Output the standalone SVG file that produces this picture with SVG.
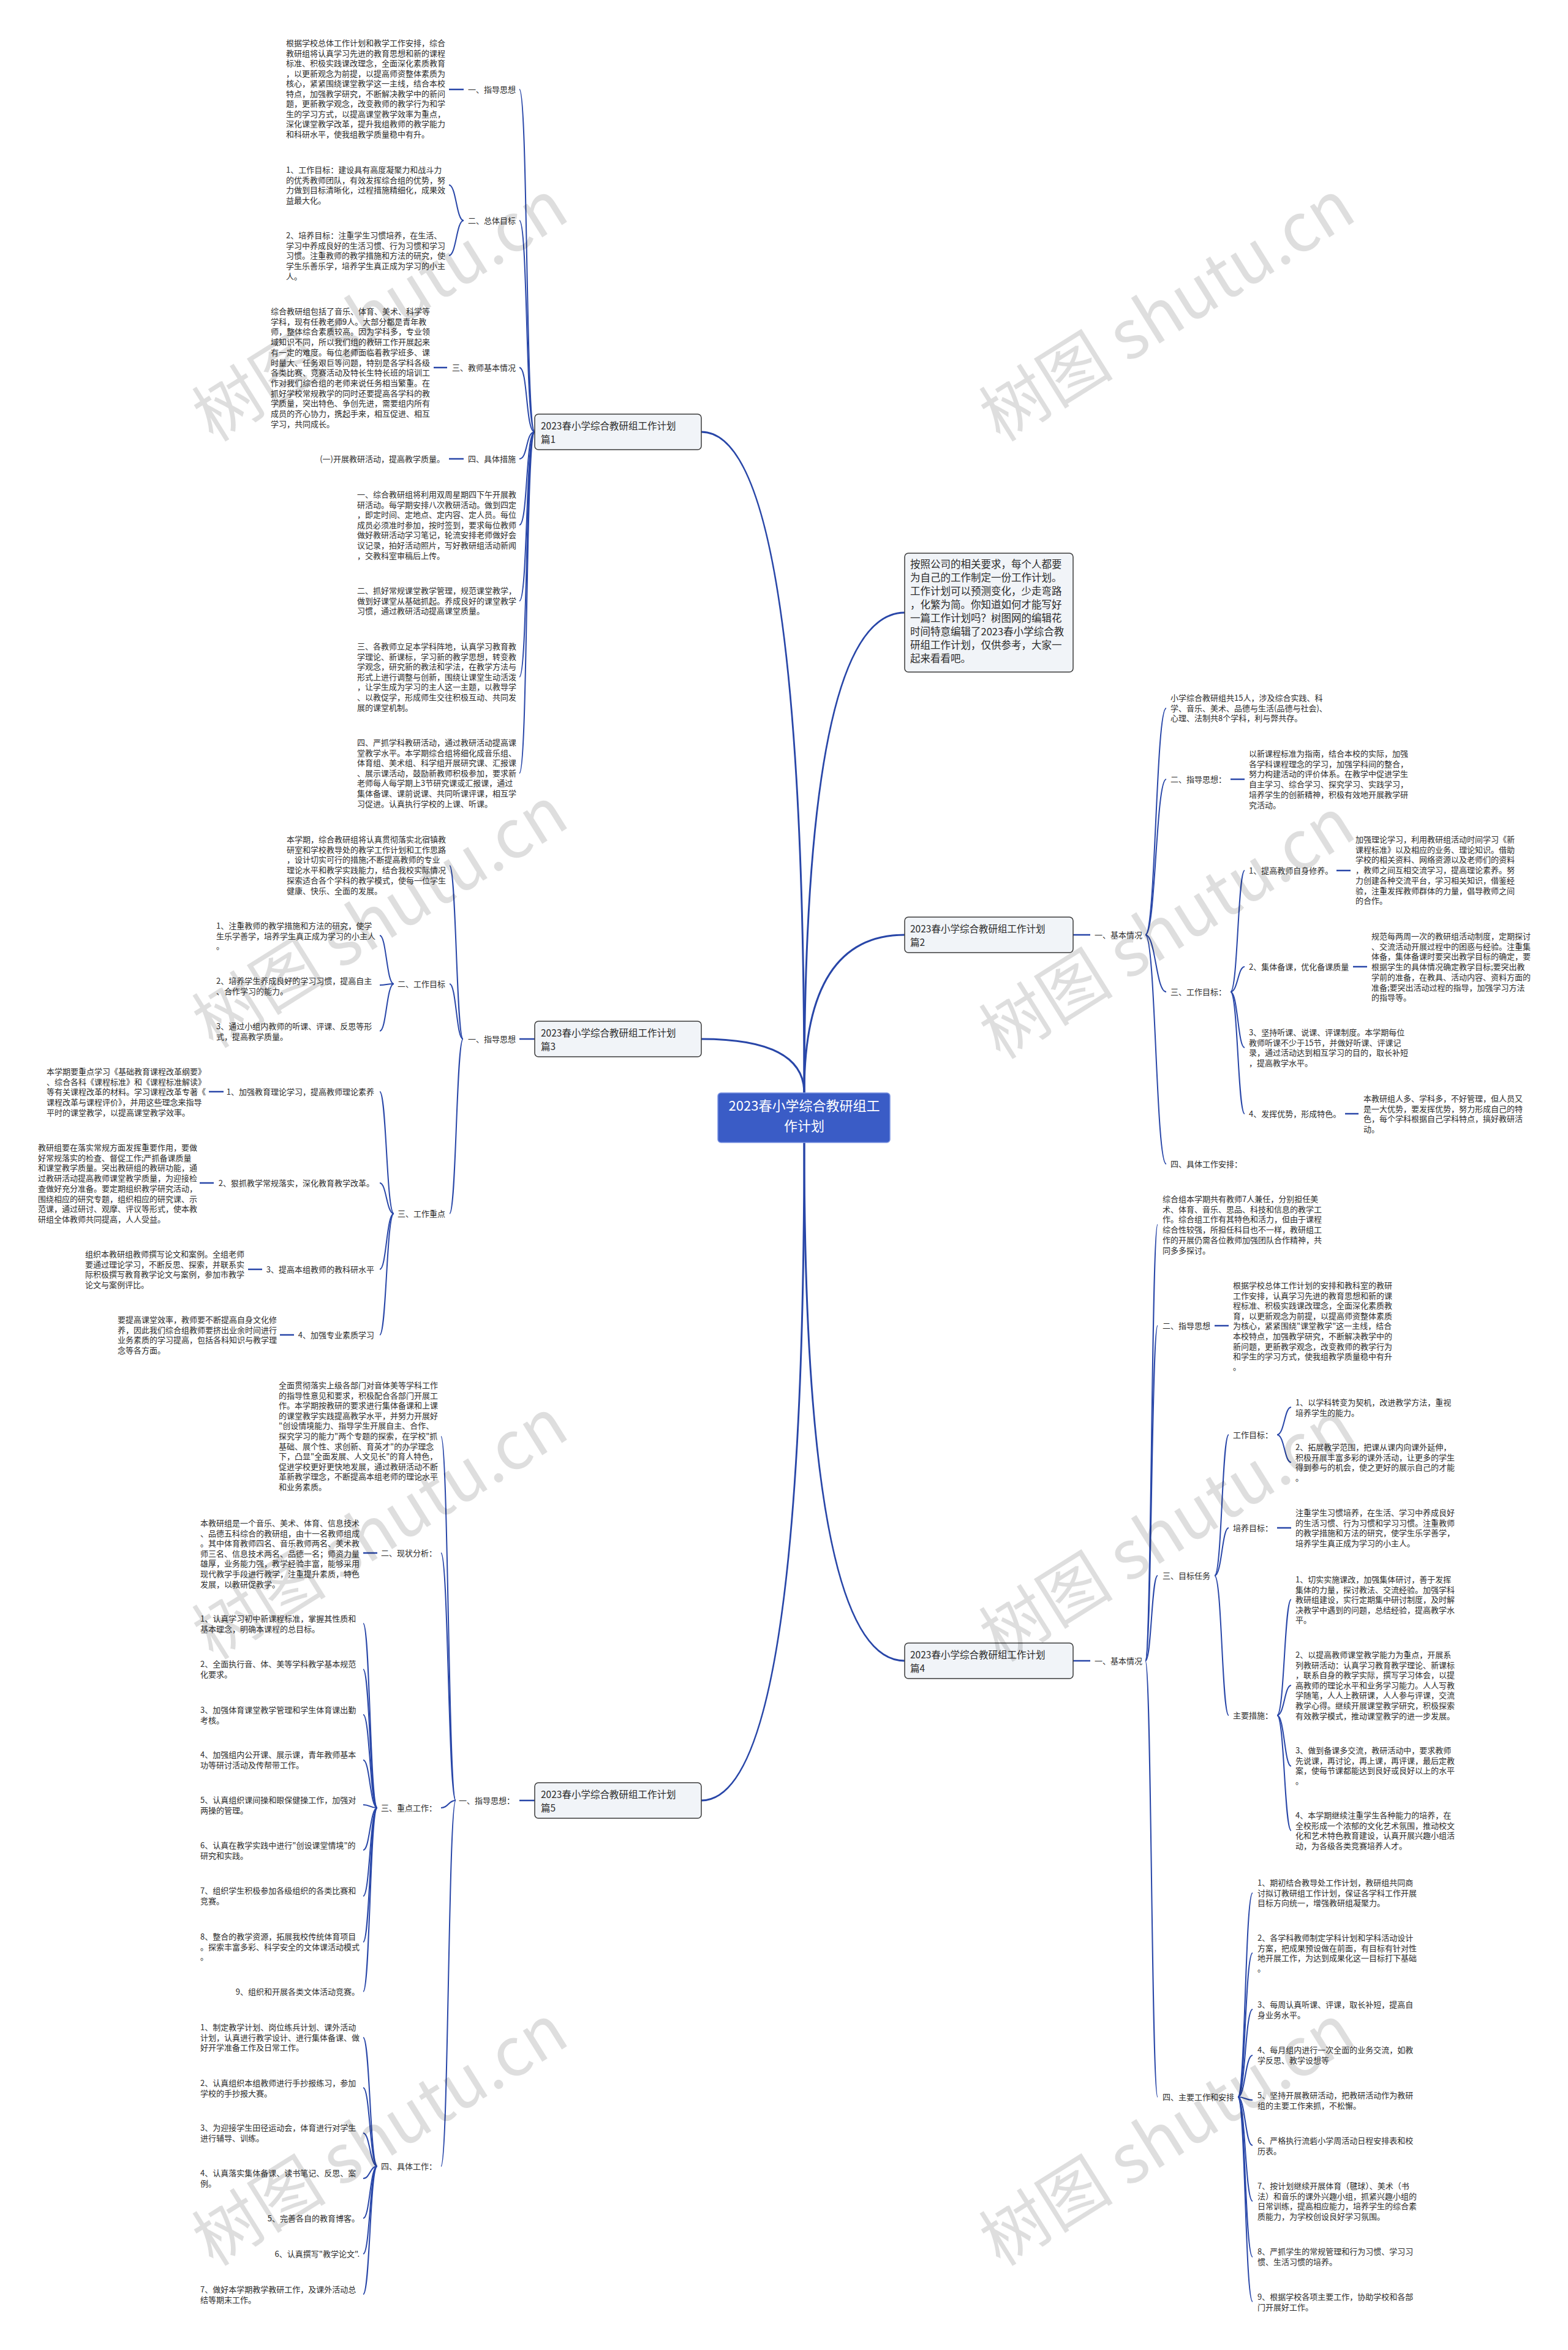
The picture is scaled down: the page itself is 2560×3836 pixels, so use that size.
<svg xmlns="http://www.w3.org/2000/svg" width="2560" height="3836" viewBox="0 0 2560 3836">
<style>
.t{font-family:"Noto Sans CJK SC","Noto Sans",sans-serif;font-size:13px;fill:#2b2b2b}
.e{text-anchor:end}
.nt{font-family:"Noto Sans CJK SC","Noto Sans",sans-serif;font-size:15.5px;fill:#2b2b2b}
.it{font-family:"Noto Sans CJK SC","Noto Sans",sans-serif;font-size:16.5px;fill:#2b2b2b}
.ct{font-family:"Noto Sans CJK SC","Noto Sans",sans-serif;font-size:22px;fill:#ffffff;text-anchor:middle}
.box{fill:#f1f4f8;stroke:#3a3a3a;stroke-width:1.5}
.ln{stroke:#2846a8;stroke-width:2;fill:none}
.lk{stroke:#2846a8;stroke-width:2.5;fill:none}
.mn{stroke:#2846a8;stroke-width:3;fill:none}
.wm{font-family:"Noto Sans CJK SC","Noto Sans",sans-serif;font-size:110px;fill:#000;fill-opacity:0.13;text-anchor:middle}
</style>
<rect width="2560" height="3836" fill="#ffffff"/>

<g id="connectors">
<path class="mn" d="M1313,1784 Q1313,705 1145,705"/>
<path class="mn" d="M1313,1784 Q1313,1000 1477,1000"/>
<path class="mn" d="M1313,1784 Q1313,1526 1477,1526"/>
<path class="mn" d="M1313,1784 Q1313,1696 1145,1696"/>
<path class="mn" d="M1313,1865 Q1313,2711 1477,2711"/>
<path class="mn" d="M1313,1865 Q1313,2939 1145,2939"/>
<!-- section 1 -->
<path class="ln" d="M873,705 C858,705 862,146 848,146"/>
<path class="ln" d="M873,705 C858,705 862,360 848,360"/>
<path class="ln" d="M873,705 C858,705 862,600 848,600"/>
<path class="ln" d="M873,705 C858,705 862,749 848,749"/>
<path class="ln" d="M873,705 C858,705 862,857 848,857"/>
<path class="ln" d="M873,705 C858,705 862,981 848,981"/>
<path class="ln" d="M873,705 C858,705 862,1105 848,1105"/>
<path class="ln" d="M873,705 C858,705 862,1262 848,1262"/>
<line class="lk" x1="733" y1="146" x2="757" y2="146"/>
<path class="ln" d="M757,360 C745,360 745,302 733,302"/>
<path class="ln" d="M757,360 C745,360 745,417 733,417"/>
<line class="lk" x1="708" y1="600" x2="730" y2="600"/>
<line class="lk" x1="733" y1="749" x2="757" y2="749"/>
<!-- section 2 -->
<line class="lk" x1="1752" y1="1526" x2="1780" y2="1526"/>
<path class="ln" d="M1870,1526 C1887,1526 1887,1156 1904,1156"/>
<path class="ln" d="M1870,1526 C1887,1526 1887,1272 1904,1272"/>
<path class="ln" d="M1870,1526 C1887,1526 1887,1619 1904,1619"/>
<path class="ln" d="M1870,1526 C1887,1526 1887,1900 1904,1900"/>
<line class="lk" x1="2009" y1="1272" x2="2032" y2="1272"/>
<path class="ln" d="M2009,1619 C2021,1619 2021,1421 2032,1421"/>
<path class="ln" d="M2009,1619 C2021,1619 2021,1578 2032,1578"/>
<path class="ln" d="M2009,1619 C2021,1619 2021,1710 2032,1710"/>
<path class="ln" d="M2009,1619 C2021,1619 2021,1818 2032,1818"/>
<line class="lk" x1="2182" y1="1421" x2="2205" y2="1421"/>
<line class="lk" x1="2209" y1="1578" x2="2232" y2="1578"/>
<line class="lk" x1="2196" y1="1818" x2="2218" y2="1818"/>
<!-- section 3 -->
<line class="lk" x1="848" y1="1696" x2="873" y2="1696"/>
<path class="ln" d="M756,1696 C745,1696 745,1413 734,1413"/>
<path class="ln" d="M756,1696 C745,1696 745,1606 734,1606"/>
<path class="ln" d="M756,1696 C745,1696 745,1981 734,1981"/>
<path class="ln" d="M643,1606 C631,1606 631,1527 620,1527"/>
<path class="ln" d="M643,1606 C631,1606 631,1608 620,1608"/>
<path class="ln" d="M643,1606 C631,1606 631,1683 620,1683"/>
<path class="ln" d="M643,1981 C631,1981 631,1782 620,1782"/>
<path class="ln" d="M643,1981 C631,1981 631,1931 620,1931"/>
<path class="ln" d="M643,1981 C631,1981 631,2072 620,2072"/>
<path class="ln" d="M643,1981 C631,1981 631,2179 620,2179"/>
<line class="lk" x1="341" y1="1782" x2="365" y2="1782"/>
<line class="lk" x1="326" y1="1931" x2="349" y2="1931"/>
<line class="lk" x1="405" y1="2072" x2="428" y2="2072"/>
<line class="lk" x1="457" y1="2179" x2="480" y2="2179"/>
<!-- section 4 -->
<line class="lk" x1="1752" y1="2711" x2="1780" y2="2711"/>
<path class="ln" d="M1870,2711 C1880,2711 1880,1999 1890,1999"/>
<path class="ln" d="M1870,2711 C1880,2711 1880,2164 1890,2164"/>
<path class="ln" d="M1870,2711 C1880,2711 1880,2572 1890,2572"/>
<path class="ln" d="M1870,2711 C1880,2711 1880,3423 1890,3423"/>
<line class="lk" x1="1983" y1="2164" x2="2006" y2="2164"/>
<path class="ln" d="M1983,2572 C1995,2572 1995,2342 2006,2342"/>
<path class="ln" d="M1983,2572 C1995,2572 1995,2494 2006,2494"/>
<path class="ln" d="M1983,2572 C1995,2572 1995,2800 2006,2800"/>
<path class="ln" d="M2085,2342 C2097,2342 2097,2297 2108,2297"/>
<path class="ln" d="M2085,2342 C2097,2342 2097,2387 2108,2387"/>
<line class="lk" x1="2085" y1="2494" x2="2108" y2="2494"/>
<path class="ln" d="M2085,2800 C2097,2800 2097,2611 2108,2611"/>
<path class="ln" d="M2085,2800 C2097,2800 2097,2751 2108,2751"/>
<path class="ln" d="M2085,2800 C2097,2800 2097,2883 2108,2883"/>
<path class="ln" d="M2085,2800 C2097,2800 2097,2988 2108,2988"/>
<path class="ln" d="M2021,3423 C2033,3423 2033,3090 2045,3090"/>
<path class="ln" d="M2021,3423 C2033,3423 2033,3188 2045,3188"/>
<path class="ln" d="M2021,3423 C2033,3423 2033,3280 2045,3280"/>
<path class="ln" d="M2021,3423 C2033,3423 2033,3355 2045,3355"/>
<path class="ln" d="M2021,3423 C2033,3423 2033,3428 2045,3428"/>
<path class="ln" d="M2021,3423 C2033,3423 2033,3502 2045,3502"/>
<path class="ln" d="M2021,3423 C2033,3423 2033,3593 2045,3593"/>
<path class="ln" d="M2021,3423 C2033,3423 2033,3684 2045,3684"/>
<path class="ln" d="M2021,3423 C2033,3423 2033,3757 2045,3757"/>
<!-- section 5 -->
<line class="lk" x1="848" y1="2939" x2="873" y2="2939"/>
<path class="ln" d="M744,2939 C732,2939 732,2345 720,2345"/>
<path class="ln" d="M744,2939 C732,2939 732,2535 720,2535"/>
<path class="ln" d="M744,2939 C732,2939 732,2951 720,2951"/>
<path class="ln" d="M744,2939 C732,2939 732,3536 720,3536"/>
<line class="lk" x1="593" y1="2535" x2="616" y2="2535"/>
<path class="ln" d="M616,2951 C604,2951 604,2650 593,2650"/>
<path class="ln" d="M616,2951 C604,2951 604,2725 593,2725"/>
<path class="ln" d="M616,2951 C604,2951 604,2799 593,2799"/>
<path class="ln" d="M616,2951 C604,2951 604,2873 593,2873"/>
<path class="ln" d="M616,2951 C604,2951 604,2946 593,2946"/>
<path class="ln" d="M616,2951 C604,2951 604,3020 593,3020"/>
<path class="ln" d="M616,2951 C604,2951 604,3095 593,3095"/>
<path class="ln" d="M616,2951 C604,2951 604,3170 593,3170"/>
<path class="ln" d="M616,2951 C604,2951 604,3251 593,3251"/>
<path class="ln" d="M616,3536 C604,3536 604,3326 593,3326"/>
<path class="ln" d="M616,3536 C604,3536 604,3408 593,3408"/>
<path class="ln" d="M616,3536 C604,3536 604,3482 593,3482"/>
<path class="ln" d="M616,3536 C604,3536 604,3556 593,3556"/>
<path class="ln" d="M616,3536 C604,3536 604,3621 593,3621"/>
<path class="ln" d="M616,3536 C604,3536 604,3679 593,3679"/>
<path class="ln" d="M616,3536 C604,3536 604,3745 593,3745"/>
</g>

<g id="center">
<rect x="1172" y="1784" width="281" height="81" rx="5" fill="#3a5cc6" stroke="#7d95e2" stroke-width="1.5"/>
<text class="ct" x="1313" y="1813">2023春小学综合教研组工</text>
<text class="ct" x="1313" y="1846">作计划</text>
</g>

<g id="intro">
<rect class="box" x="1477" y="903" width="275" height="194" rx="6"/>
<text class="it" x="1486" y="927"><tspan>按照公司的相关要求，每个人都要</tspan><tspan x="1486" dy="22">为自己的工作制定一份工作计划。</tspan><tspan x="1486" dy="22">工作计划可以预测变化，少走弯路</tspan><tspan x="1486" dy="22">，化繁为简。你知道如何才能写好</tspan><tspan x="1486" dy="22">一篇工作计划吗？树图网的编辑花</tspan><tspan x="1486" dy="22">时间特意编辑了2023春小学综合教</tspan><tspan x="1486" dy="22">研组工作计划，仅供参考，大家一</tspan><tspan x="1486" dy="22">起来看看吧。</tspan></text>
</g>

<g id="sec1">
<rect class="box" x="873" y="676" width="272" height="58" rx="6"/>
<text class="nt" x="883" y="700.5"><tspan>2023春小学综合教研组工作计划</tspan><tspan x="883" dy="22">篇1</tspan></text>
</g>
<g id="sec1-items">
<text class="t e" x="842" y="151">一、指导思想</text>
<text class="t" x="467" y="75"><tspan>根据学校总体工作计划和教学工作安排，综合</tspan><tspan x="467" dy="16.5">教研组将认真学习先进的教育思想和新的课程</tspan><tspan x="467" dy="16.5">标准、积极实践课改理念，全面深化素质教育</tspan><tspan x="467" dy="16.5">，以更新观念为前提，以提高师资整体素质为</tspan><tspan x="467" dy="16.5">核心，紧紧围绕课堂教学这一主线，结合本校</tspan><tspan x="467" dy="16.5">特点，加强教学研究，不断解决教学中的新问</tspan><tspan x="467" dy="16.5">题，更新教学观念，改变教师的教学行为和学</tspan><tspan x="467" dy="16.5">生的学习方式，以提高课堂教学效率为重点，</tspan><tspan x="467" dy="16.5">深化课堂教学改革，提升我组教师的教学能力</tspan><tspan x="467" dy="16.5">和科研水平，使我组教学质量稳中有升。</tspan></text>
<text class="t e" x="842" y="365">二、总体目标</text>
<text class="t" x="467" y="282"><tspan>1、工作目标：建设具有高度凝聚力和战斗力</tspan><tspan x="467" dy="16.6">的优秀教师团队，有效发挥综合组的优势，努</tspan><tspan x="467" dy="16.6">力做到目标清晰化，过程措施精细化，成果效</tspan><tspan x="467" dy="16.6">益最大化。</tspan></text>
<text class="t" x="467" y="389"><tspan>2、培养目标：注重学生习惯培养，在生活、</tspan><tspan x="467" dy="16.7">学习中养成良好的生活习惯、行为习惯和学习</tspan><tspan x="467" dy="16.7">习惯。注重教师的教学措施和方法的研究，使</tspan><tspan x="467" dy="16.7">学生乐善乐学，培养学生真正成为学习的小主</tspan><tspan x="467" dy="16.7">人。</tspan></text>
<text class="t e" x="842" y="605">三、教师基本情况</text>
<text class="t" x="442" y="513"><tspan>综合教研组包括了音乐、体育、美术、科学等</tspan><tspan x="442" dy="16.7">学科，现有任教老师9人。大部分都是青年教</tspan><tspan x="442" dy="16.7">师，整体综合素质较高。因为学科多，专业领</tspan><tspan x="442" dy="16.7">域知识不同，所以我们组的教研工作开展起来</tspan><tspan x="442" dy="16.7">有一定的难度。每位老师面临着教学班多、课</tspan><tspan x="442" dy="16.7">时量大、任务艰巨等问题，特别是各学科各级</tspan><tspan x="442" dy="16.7">各类比赛、竞赛活动及特长生特长班的培训工</tspan><tspan x="442" dy="16.7">作对我们综合组的老师来说任务相当繁重。在</tspan><tspan x="442" dy="16.7">抓好学校常规教学的同时还要提高各学科的教</tspan><tspan x="442" dy="16.7">学质量，突出特色、争创先进，需要组内所有</tspan><tspan x="442" dy="16.7">成员的齐心协力，携起手来，相互促进、相互</tspan><tspan x="442" dy="16.7">学习，共同成长。</tspan></text>
<text class="t e" x="842" y="754">四、具体措施</text>
<text class="t e" x="726" y="754">(一)开展教研活动，提高教学质量。</text>
<text class="t" x="583" y="812"><tspan>一、综合教研组将利用双周星期四下午开展教</tspan><tspan x="583" dy="16.6">研活动。每学期安排八次教研活动。做到四定</tspan><tspan x="583" dy="16.6">，即定时间、定地点、定内容、定人员。每位</tspan><tspan x="583" dy="16.6">成员必须准时参加，按时签到，要求每位教师</tspan><tspan x="583" dy="16.6">做好教研活动学习笔记，轮流安排老师做好会</tspan><tspan x="583" dy="16.6">议记录，拍好活动照片，写好教研组活动新闻</tspan><tspan x="583" dy="16.6">，交教科室审稿后上传。</tspan></text>
<text class="t" x="583" y="969"><tspan>二、抓好常规课堂教学管理，规范课堂教学，</tspan><tspan x="583" dy="16.6">做到好课堂从基础抓起。养成良好的课堂教学</tspan><tspan x="583" dy="16.6">习惯，通过教研活动提高课堂质量。</tspan></text>
<text class="t" x="583" y="1060"><tspan>三、各教师立足本学科阵地，认真学习教育教</tspan><tspan x="583" dy="16.6">学理论、新课标，学习新的教学思想，转变教</tspan><tspan x="583" dy="16.6">学观念，研究新的教法和学法，在教学方法与</tspan><tspan x="583" dy="16.6">形式上进行调整与创新，围绕让课堂生动活泼</tspan><tspan x="583" dy="16.6">，让学生成为学习的主人这一主题，以教导学</tspan><tspan x="583" dy="16.6">、以教促学，形成师生交往积极互动、共同发</tspan><tspan x="583" dy="16.6">展的课堂机制。</tspan></text>
<text class="t" x="583" y="1217"><tspan>四、严抓学科教研活动，通过教研活动提高课</tspan><tspan x="583" dy="16.6">堂教学水平。本学期综合组将细化成音乐组、</tspan><tspan x="583" dy="16.6">体育组、美术组、科学组开展研究课、汇报课</tspan><tspan x="583" dy="16.6">、展示课活动，鼓励新教师积极参加，要求新</tspan><tspan x="583" dy="16.6">老师每人每学期上3节研究课或汇报课，通过</tspan><tspan x="583" dy="16.6">集体备课、课前说课、共同听课评课，相互学</tspan><tspan x="583" dy="16.6">习促进。认真执行学校的上课、听课。</tspan></text>
</g>

<g id="sec2">
<rect class="box" x="1477" y="1497" width="275" height="58" rx="6"/>
<text class="nt" x="1486" y="1521.5"><tspan>2023春小学综合教研组工作计划</tspan><tspan x="1486" dy="22">篇2</tspan></text>
</g>
<g id="sec2-items">
<text class="t" x="1787" y="1531">一、基本情况</text>
<text class="t" x="1911" y="1144"><tspan>小学综合教研组共15人，涉及综合实践、科</tspan><tspan x="1911" dy="16.7">学、音乐、美术、品德与生活(品德与社会)、</tspan><tspan x="1911" dy="16.7">心理、法制共8个学科，利与弊共存。</tspan></text>
<text class="t" x="1911" y="1277">二、指导思想：</text>
<text class="t" x="2039" y="1235"><tspan>以新课程标准为指南，结合本校的实际，加强</tspan><tspan x="2039" dy="16.7">各学科课程理念的学习，加强学科间的整合，</tspan><tspan x="2039" dy="16.7">努力构建活动的评价体系。在教学中促进学生</tspan><tspan x="2039" dy="16.7">自主学习、综合学习、探究学习、实践学习，</tspan><tspan x="2039" dy="16.7">培养学生的创新精神，积极有效地开展教学研</tspan><tspan x="2039" dy="16.7">究活动。</tspan></text>
<text class="t" x="1911" y="1624">三、工作目标：</text>
<text class="t" x="2039" y="1426">1、提高教师自身修养。</text>
<text class="t" x="2213" y="1375"><tspan>加强理论学习，利用教研组活动时间学习《新</tspan><tspan x="2213" dy="16.7">课程标准》以及相应的业务、理论知识。借助</tspan><tspan x="2213" dy="16.7">学校的相关资料、网络资源以及老师们的资料</tspan><tspan x="2213" dy="16.7">，教师之间互相交流学习，提高理论素养。努</tspan><tspan x="2213" dy="16.7">力创建各种交流平台，学习相关知识，借鉴经</tspan><tspan x="2213" dy="16.7">验，注重发挥教师群体的力量，倡导教师之间</tspan><tspan x="2213" dy="16.7">的合作。</tspan></text>
<text class="t" x="2039" y="1583">2、集体备课，优化备课质量</text>
<text class="t" x="2239" y="1533"><tspan>规范每两周一次的教研组活动制度，定期探讨</tspan><tspan x="2239" dy="16.7">、交流活动开展过程中的困惑与经验。注重集</tspan><tspan x="2239" dy="16.7">体备，集体备课时要突出教学目标的确定，要</tspan><tspan x="2239" dy="16.7">根据学生的具体情况确定教学目标;要突出教</tspan><tspan x="2239" dy="16.7">学前的准备，在教具、活动内容、资料方面的</tspan><tspan x="2239" dy="16.7">准备;要突出活动过程的指导，加强学习方法</tspan><tspan x="2239" dy="16.7">的指导等。</tspan></text>
<text class="t" x="2039" y="1690"><tspan>3、坚持听课、说课、评课制度。本学期每位</tspan><tspan x="2039" dy="16.7">教师听课不少于15节，并做好听课、评课记</tspan><tspan x="2039" dy="16.7">录，通过活动达到相互学习的目的，取长补短</tspan><tspan x="2039" dy="16.7">，提高教学水平。</tspan></text>
<text class="t" x="2039" y="1823">4、发挥优势，形成特色。</text>
<text class="t" x="2226" y="1798"><tspan>本教研组人多、学科多，不好管理，但人员又</tspan><tspan x="2226" dy="16.7">是一大优势，要发挥优势，努力形成自己的特</tspan><tspan x="2226" dy="16.7">色，每个学科根据自己学科特点，搞好教研活</tspan><tspan x="2226" dy="16.7">动。</tspan></text>
<text class="t" x="1911" y="1905">四、具体工作安排：</text>
</g>

<g id="sec3">
<rect class="box" x="873" y="1667" width="272" height="58" rx="6"/>
<text class="nt" x="883" y="1691.5"><tspan>2023春小学综合教研组工作计划</tspan><tspan x="883" dy="22">篇3</tspan></text>
</g>
<g id="sec3-items">
<text class="t e" x="842" y="1701">一、指导思想</text>
<text class="t" x="468" y="1375"><tspan>本学期，综合教研组将认真贯彻落实北宿镇教</tspan><tspan x="468" dy="16.7">研室和学校教导处的教学工作计划和工作思路</tspan><tspan x="468" dy="16.7">，设计切实可行的措施;不断提高教师的专业</tspan><tspan x="468" dy="16.7">理论水平和教学实践能力，结合我校实际情况</tspan><tspan x="468" dy="16.7">探索适合各个学科的教学模式，使每一位学生</tspan><tspan x="468" dy="16.7">健康、快乐、全面的发展。</tspan></text>
<text class="t e" x="727" y="1611">二、工作目标</text>
<text class="t" x="353" y="1516"><tspan>1、注重教师的教学措施和方法的研究，使学</tspan><tspan x="353" dy="16.6">生乐学善学，培养学生真正成为学习的小主人</tspan><tspan x="353" dy="16.6">。</tspan></text>
<text class="t" x="353" y="1606"><tspan>2、培养学生养成良好的学习习惯，提高自主</tspan><tspan x="353" dy="16.6">、合作学习的能力。</tspan></text>
<text class="t" x="353" y="1680"><tspan>3、通过小组内教师的听课、评课、反思等形</tspan><tspan x="353" dy="16.6">式，提高教学质量。</tspan></text>
<text class="t e" x="727" y="1986">三、工作重点</text>
<text class="t e" x="611" y="1787">1、加强教育理论学习，提高教师理论素养</text>
<text class="t" x="76" y="1754"><tspan>本学期要重点学习《基础教育课程改革纲要》</tspan><tspan x="76" dy="16.7">、综合各科《课程标准》和《课程标准解读》</tspan><tspan x="76" dy="16.7">等有关课程改革的材料。学习课程改革专著《</tspan><tspan x="76" dy="16.7">课程改革与课程评价》，并用这些理念来指导</tspan><tspan x="76" dy="16.7">平时的课堂教学，以提高课堂教学效率。</tspan></text>
<text class="t e" x="611" y="1936">2、狠抓教学常规落实，深化教育教学改革。</text>
<text class="t" x="62" y="1878"><tspan>教研组要在落实常规方面发挥重要作用，要做</tspan><tspan x="62" dy="16.7">好常规落实的检查、督促工作;严抓备课质量</tspan><tspan x="62" dy="16.7">和课堂教学质量。突出教研组的教研功能，通</tspan><tspan x="62" dy="16.7">过教研活动提高教师课堂教学质量，为迎接检</tspan><tspan x="62" dy="16.7">查做好充分准备。要定期组织教学研究活动，</tspan><tspan x="62" dy="16.7">围绕相应的研究专题，组织相应的研究课、示</tspan><tspan x="62" dy="16.7">范课，通过研讨、观摩、评议等形式，使本教</tspan><tspan x="62" dy="16.7">研组全体教师共同提高，人人受益。</tspan></text>
<text class="t e" x="611" y="2077">3、提高本组教师的教科研水平</text>
<text class="t" x="139" y="2052"><tspan>组织本教研组教师撰写论文和案例。全组老师</tspan><tspan x="139" dy="16.7">要通过理论学习，不断反思、探索，并联系实</tspan><tspan x="139" dy="16.7">际积极撰写教育教学论文与案例，参加市教学</tspan><tspan x="139" dy="16.7">论文与案例评比。</tspan></text>
<text class="t e" x="611" y="2184">4、加强专业素质学习</text>
<text class="t" x="192" y="2159"><tspan>要提高课堂效率，教师要不断提高自身文化修</tspan><tspan x="192" dy="16.7">养，因此我们综合组教师要挤出业余时间进行</tspan><tspan x="192" dy="16.7">业务素质的学习提高，包括各科知识与教学理</tspan><tspan x="192" dy="16.7">念等各方面。</tspan></text>
</g>

<g id="sec4">
<rect class="box" x="1477" y="2682" width="275" height="58" rx="6"/>
<text class="nt" x="1486" y="2706.5"><tspan>2023春小学综合教研组工作计划</tspan><tspan x="1486" dy="22">篇4</tspan></text>
</g>
<g id="sec4-items">
<text class="t" x="1787" y="2716">一、基本情况</text>
<text class="t" x="1898" y="1962"><tspan>综合组本学期共有教师7人兼任，分别担任美</tspan><tspan x="1898" dy="16.7">术、体育、音乐、思品、科技和信息的教学工</tspan><tspan x="1898" dy="16.7">作。综合组工作有其特色和活力，但由于课程</tspan><tspan x="1898" dy="16.7">综合性较强，所担任科目也不一样，教研组工</tspan><tspan x="1898" dy="16.7">作的开展仍需各位教师加强团队合作精神，共</tspan><tspan x="1898" dy="16.7">同多多探讨。</tspan></text>
<text class="t" x="1898" y="2169">二、指导思想</text>
<text class="t" x="2013" y="2103"><tspan>根据学校总体工作计划的安排和教科室的教研</tspan><tspan x="2013" dy="16.6">工作安排，认真学习先进的教育思想和新的课</tspan><tspan x="2013" dy="16.6">程标准、积极实践课改理念，全面深化素质教</tspan><tspan x="2013" dy="16.6">育，以更新观念为前提，以提高师资整体素质</tspan><tspan x="2013" dy="16.6">为核心，紧紧围绕"课堂教学"这一主线，结合</tspan><tspan x="2013" dy="16.6">本校特点，加强教学研究，不断解决教学中的</tspan><tspan x="2013" dy="16.6">新问题，更新教学观念，改变教师的教学行为</tspan><tspan x="2013" dy="16.6">和学生的学习方式，使我组教学质量稳中有升</tspan><tspan x="2013" dy="16.6">。</tspan></text>
<text class="t" x="1898" y="2577">三、目标任务</text>
<text class="t" x="2013" y="2347">工作目标：</text>
<text class="t" x="2115" y="2294"><tspan>1、以学科转变为契机，改进教学方法，重视</tspan><tspan x="2115" dy="16.6">培养学生的能力。</tspan></text>
<text class="t" x="2115" y="2367"><tspan>2、拓展教学范围，把课从课内向课外延伸，</tspan><tspan x="2115" dy="16.6">积极开展丰富多彩的课外活动，让更多的学生</tspan><tspan x="2115" dy="16.6">得到参与的机会，使之更好的展示自己的才能</tspan><tspan x="2115" dy="16.6">。</tspan></text>
<text class="t" x="2013" y="2499">培养目标：</text>
<text class="t" x="2115" y="2474"><tspan>注重学生习惯培养，在生活、学习中养成良好</tspan><tspan x="2115" dy="16.7">的生活习惯、行为习惯和学习习惯。注重教师</tspan><tspan x="2115" dy="16.7">的教学措施和方法的研究，使学生乐学善学，</tspan><tspan x="2115" dy="16.7">培养学生真正成为学习的小主人。</tspan></text>
<text class="t" x="2013" y="2805">主要措施：</text>
<text class="t" x="2115" y="2583"><tspan>1、切实实施课改，加强集体研讨，善于发挥</tspan><tspan x="2115" dy="16.6">集体的力量，探讨教法、交流经验。加强学科</tspan><tspan x="2115" dy="16.6">教研组建设，实行定期集中研讨制度，及时解</tspan><tspan x="2115" dy="16.6">决教学中遇到的问题，总结经验，提高教学水</tspan><tspan x="2115" dy="16.6">平。</tspan></text>
<text class="t" x="2115" y="2706"><tspan>2、以提高教师课堂教学能力为重点，开展系</tspan><tspan x="2115" dy="16.6">列教研活动：认真学习教育教学理论、新课标</tspan><tspan x="2115" dy="16.6">，联系自身的教学实际，撰写学习体会，以提</tspan><tspan x="2115" dy="16.6">高教师的理论水平和业务学习能力。人人写教</tspan><tspan x="2115" dy="16.6">学随笔，人人上教研课，人人参与评课，交流</tspan><tspan x="2115" dy="16.6">教学心得。继续开展课堂教学研究，积极探索</tspan><tspan x="2115" dy="16.6">有效教学模式，推动课堂教学的进一步发展。</tspan></text>
<text class="t" x="2115" y="2862"><tspan>3、做到备课多交流，教研活动中，要求教师</tspan><tspan x="2115" dy="16.6">先说课，再讨论，再上课，再评课，最后定教</tspan><tspan x="2115" dy="16.6">案，使每节课都能达到良好或良好以上的水平</tspan><tspan x="2115" dy="16.6">。</tspan></text>
<text class="t" x="2115" y="2968"><tspan>4、本学期继续注重学生各种能力的培养，在</tspan><tspan x="2115" dy="16.6">全校形成一个浓郁的文化艺术氛围，推动校文</tspan><tspan x="2115" dy="16.6">化和艺术特色教育建设，认真开展兴趣小组活</tspan><tspan x="2115" dy="16.6">动，为各级各类竞赛培养人才。</tspan></text>
<text class="t" x="1898" y="3428">四、主要工作和安排</text>
<text class="t" x="2053" y="3078"><tspan>1、期初结合教导处工作计划，教研组共同商</tspan><tspan x="2053" dy="16.6">讨拟订教研组工作计划，保证各学科工作开展</tspan><tspan x="2053" dy="16.6">目标方向统一，增强教研组凝聚力。</tspan></text>
<text class="t" x="2053" y="3168"><tspan>2、各学科教师制定学科计划和学科活动设计</tspan><tspan x="2053" dy="16.6">方案，把成果预设做在前面，有目标有针对性</tspan><tspan x="2053" dy="16.6">地开展工作，为达到成果化这一目标打下基础</tspan><tspan x="2053" dy="16.6">。</tspan></text>
<text class="t" x="2053" y="3277"><tspan>3、每周认真听课、评课，取长补短，提高自</tspan><tspan x="2053" dy="16.6">身业务水平。</tspan></text>
<text class="t" x="2053" y="3351"><tspan>4、每月组内进行一次全面的业务交流，如教</tspan><tspan x="2053" dy="16.6">学反思、教学设想等</tspan></text>
<text class="t" x="2053" y="3425"><tspan>5、坚持开展教研活动，把教研活动作为教研</tspan><tspan x="2053" dy="16.6">组的主要工作来抓，不松懈。</tspan></text>
<text class="t" x="2053" y="3499"><tspan>6、严格执行流砦小学周活动日程安排表和校</tspan><tspan x="2053" dy="16.6">历表。</tspan></text>
<text class="t" x="2053" y="3573"><tspan>7、按计划继续开展体育（毽球）、美术（书</tspan><tspan x="2053" dy="16.6">法）和音乐的课外兴趣小组，抓紧兴趣小组的</tspan><tspan x="2053" dy="16.6">日常训练，提高相应能力，培养学生的综合素</tspan><tspan x="2053" dy="16.6">质能力，为学校创设良好学习氛围。</tspan></text>
<text class="t" x="2053" y="3680"><tspan>8、严抓学生的常规管理和行为习惯、学习习</tspan><tspan x="2053" dy="16.6">惯、生活习惯的培养。</tspan></text>
<text class="t" x="2053" y="3754"><tspan>9、根据学校各项主要工作，协助学校和各部</tspan><tspan x="2053" dy="16.6">门开展好工作。</tspan></text>
</g>

<g id="sec5">
<rect class="box" x="873" y="2910" width="272" height="58" rx="6"/>
<text class="nt" x="883" y="2934.5"><tspan>2023春小学综合教研组工作计划</tspan><tspan x="883" dy="22">篇5</tspan></text>
</g>
<g id="sec5-items">
<text class="t e" x="840" y="2944">一、指导思想：</text>
<text class="t" x="455" y="2266"><tspan>全面贯彻落实上级各部门对音体美等学科工作</tspan><tspan x="455" dy="16.6">的指导性意见和要求，积极配合各部门开展工</tspan><tspan x="455" dy="16.6">作。本学期按教研的要求进行集体备课和上课</tspan><tspan x="455" dy="16.6">的课堂教学实践提高教学水平，并努力开展好</tspan><tspan x="455" dy="16.6">"创设情境能力、指导学生开展自主、合作、</tspan><tspan x="455" dy="16.6">探究学习的能力"两个专题的探索，在学校"抓</tspan><tspan x="455" dy="16.6">基础、展个性、求创新、育英才"的办学理念</tspan><tspan x="455" dy="16.6">下，凸显"全面发展、人文见长"的育人特色，</tspan><tspan x="455" dy="16.6">促进学校更好更快地发展，通过教研活动不断</tspan><tspan x="455" dy="16.6">革新教学理念，不断提高本组老师的理论水平</tspan><tspan x="455" dy="16.6">和业务素质。</tspan></text>
<text class="t e" x="713" y="2540">二、现状分析：</text>
<text class="t" x="327" y="2491"><tspan>本教研组是一个音乐、美术、体育、信息技术</tspan><tspan x="327" dy="16.6">、品德五科综合的教研组，由十一名教师组成</tspan><tspan x="327" dy="16.6">。其中体育教师四名、音乐教师两名、美术教</tspan><tspan x="327" dy="16.6">师三名、信息技术两名、品德一名；师资力量</tspan><tspan x="327" dy="16.6">雄厚，业务能力强，教学经验丰富，能够采用</tspan><tspan x="327" dy="16.6">现代教学手段进行教学，注重提升素质，特色</tspan><tspan x="327" dy="16.6">发展，以教研促教学。</tspan></text>
<text class="t e" x="713" y="2956">三、重点工作：</text>
<text class="t" x="327" y="2647"><tspan>1、认真学习初中新课程标准，掌握其性质和</tspan><tspan x="327" dy="16.6">基本理念，明确本课程的总目标。</tspan></text>
<text class="t" x="327" y="2721"><tspan>2、全面执行音、体、美等学科教学基本规范</tspan><tspan x="327" dy="16.6">化要求。</tspan></text>
<text class="t" x="327" y="2796"><tspan>3、加强体育课堂教学管理和学生体育课出勤</tspan><tspan x="327" dy="16.6">考核。</tspan></text>
<text class="t" x="327" y="2869"><tspan>4、加强组内公开课、展示课，青年教师基本</tspan><tspan x="327" dy="16.6">功等研讨活动及传帮带工作。</tspan></text>
<text class="t" x="327" y="2943"><tspan>5、认真组织课间操和眼保健操工作，加强对</tspan><tspan x="327" dy="16.6">两操的管理。</tspan></text>
<text class="t" x="327" y="3017"><tspan>6、认真在教学实践中进行"创设课堂情境"的</tspan><tspan x="327" dy="16.6">研究和实践。</tspan></text>
<text class="t" x="327" y="3091"><tspan>7、组织学生积极参加各级组织的各类比赛和</tspan><tspan x="327" dy="16.6">竞赛。</tspan></text>
<text class="t" x="327" y="3166"><tspan>8、整合的教学资源，拓展我校传统体育项目</tspan><tspan x="327" dy="16.6">。探索丰富多彩、科学安全的文体课活动模式</tspan><tspan x="327" dy="16.6">。</tspan></text>
<text class="t e" x="587" y="3256">9、组织和开展各类文体活动竞赛。</text>
<text class="t e" x="713" y="3541">四、具体工作：</text>
<text class="t" x="327" y="3314"><tspan>1、制定教学计划、岗位练兵计划、课外活动</tspan><tspan x="327" dy="16.6">计划，认真进行教学设计、进行集体备课、做</tspan><tspan x="327" dy="16.6">好开学准备工作及日常工作。</tspan></text>
<text class="t" x="327" y="3405"><tspan>2、认真组织本组教师进行手抄报练习，参加</tspan><tspan x="327" dy="16.6">学校的手抄报大赛。</tspan></text>
<text class="t" x="327" y="3478"><tspan>3、为迎接学生田径运动会，体育进行对学生</tspan><tspan x="327" dy="16.6">进行辅导、训练。</tspan></text>
<text class="t" x="327" y="3552"><tspan>4、认真落实集体备课、读书笔记、反思、案</tspan><tspan x="327" dy="16.6">例。</tspan></text>
<text class="t e" x="587" y="3626">5、完善各自的教育博客。</text>
<text class="t e" x="587" y="3684">6、认真撰写"教学论文".</text>
<text class="t" x="327" y="3742"><tspan>7、做好本学期教学教研工作，及课外活动总</tspan><tspan x="327" dy="16.6">结等期末工作。</tspan></text>
</g>

<g id="watermarks">
<text class="wm" transform="translate(641,540) rotate(-32)">树图 shutu.cn</text>
<text class="wm" transform="translate(1926,540) rotate(-32)">树图 shutu.cn</text>
<text class="wm" transform="translate(641,1530) rotate(-32)">树图 shutu.cn</text>
<text class="wm" transform="translate(1926,1548) rotate(-32)">树图 shutu.cn</text>
<text class="wm" transform="translate(641,2528) rotate(-32)">树图 shutu.cn</text>
<text class="wm" transform="translate(1926,2532) rotate(-32)">树图 shutu.cn</text>
<text class="wm" transform="translate(641,3518) rotate(-32)">树图 shutu.cn</text>
<text class="wm" transform="translate(1926,3518) rotate(-32)">树图 shutu.cn</text>
</g>
</svg>
